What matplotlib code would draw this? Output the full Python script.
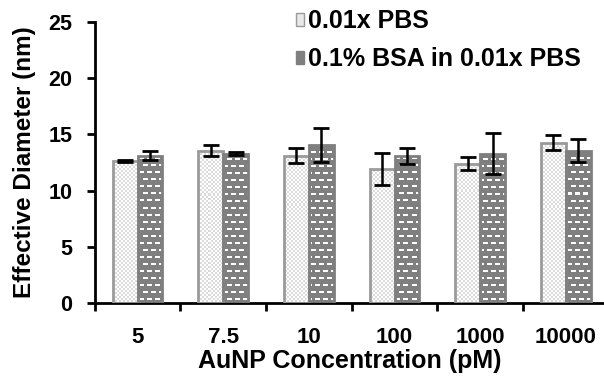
import numpy as np
import matplotlib.pyplot as plt
from matplotlib.patches import Patch

plt.rcParams['font.family'] = ['Liberation Sans', 'DejaVu Sans']
plt.rcParams['font.weight'] = 'bold'

categories = ['5', '7.5', '10', '100', '1000', '10000']
pbs = [12.6, 13.55, 13.1, 11.9, 12.4, 14.25]
pbs_err = [0.1, 0.47, 0.68, 1.41, 0.55, 0.68]
bsa = [13.1, 13.3, 14.05, 13.1, 13.3, 13.55]
bsa_err = [0.4, 0.1, 1.55, 0.71, 1.82, 1.04]
series_names = ['0.01x PBS', '0.1% BSA in 0.01x PBS']

fig = plt.figure(figsize=(6.04, 3.81), dpi=100)
ax = fig.add_axes([0.157, 0.205, 0.843, 0.737])
ax.set_ylim(0, 25)
ax.set_xlim(-0.5, 5.446)

# pixel textures for the two fills
H, W = 281, 509
r, c = np.mgrid[0:H, 0:W]
light = np.where((r // 2 + c // 2) % 2 == 0, 1.0, 0.86)
light_img = np.dstack([light] * 3)
off = np.where((r // 7) % 2 == 0, 0, 4)
dash = ((r % 7) >= 3) & ((r % 7) <= 4) & (((c + off) % 8) < 5)
dark = np.where(dash, 1.0, 0.5)
dark_img = np.dstack([dark] * 3)

x = np.arange(len(categories))
w = 0.29

bars1 = ax.bar(x - w / 2, pbs, w, fill=False, edgecolor='#9a9a9a', lw=2, zorder=3)
bars2 = ax.bar(x + w / 2, bsa, w, fill=False, edgecolor='#7f7f7f', lw=2, zorder=3)
for bars, img in [(bars1, light_img), (bars2, dark_img)]:
    for b in bars:
        im = ax.imshow(img, extent=(-0.5, 5.446, 0, 25), aspect='auto',
                       interpolation='nearest', zorder=2)
        im.set_clip_path(b)

ax.errorbar(x - w / 2, pbs, yerr=pbs_err, fmt='none', ecolor='black', elinewidth=1.8,
            capsize=6, capthick=2, zorder=4)
ax.errorbar(x + w / 2, bsa, yerr=bsa_err, fmt='none', ecolor='black', elinewidth=1.8,
            capsize=6, capthick=2, zorder=4)

ax.set_yticks([0, 5, 10, 15, 20, 25])
ax.set_xticks(x)
ax.set_xticklabels(categories)
ax.set_xticks(np.arange(-0.5, 5.5, 1), minor=True)
ax.tick_params(axis='x', which='major', length=0, pad=17, labelsize=16)
ax.tick_params(axis='x', which='minor', length=6, width=2, direction='out')
ax.tick_params(axis='y', length=6, width=2, direction='out', labelsize=15.5, pad=10)

for s in ['top', 'right']:
    ax.spines[s].set_visible(False)
for s in ['left', 'bottom']:
    ax.spines[s].set_linewidth(2)

ax.set_ylabel('Effective Diameter (nm)', fontsize=17.5, fontweight='bold', labelpad=9)
ax.set_xlabel('AuNP Concentration (pM)', fontsize=18, fontweight='bold', labelpad=1)

handles = [Patch(facecolor='#e8e8e8', edgecolor='#9a9a9a'),
           Patch(facecolor='#7f7f7f', edgecolor='#7f7f7f')]
leg = ax.legend(handles, series_names, loc='upper left', bbox_to_anchor=(0.35, 1.125),
                frameon=False, handlelength=0.35, handleheight=0.4, handletextpad=0.15,
                labelspacing=0.55, fontsize=18)

fig.savefig('out.png', dpi=100)
